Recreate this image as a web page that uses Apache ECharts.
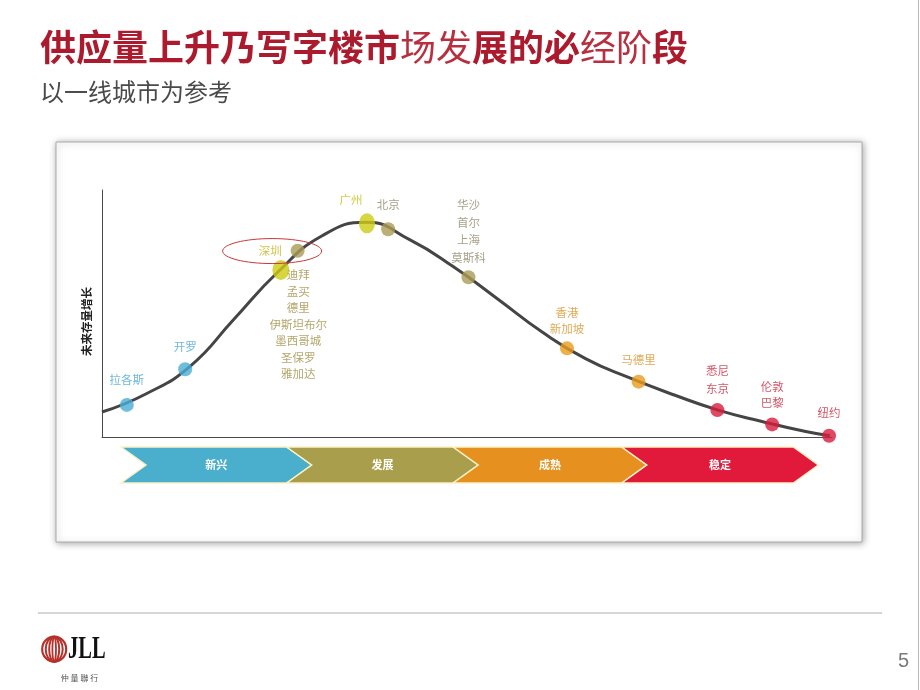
<!DOCTYPE html>
<html><head><meta charset="utf-8">
<script src="https://cdn.jsdelivr.net/npm/echarts@6/dist/echarts.min.js"></script>
<style>html,body{margin:0;padding:0;background:#fff}#c{width:920px;height:690px}</style>
</head><body><div id="c"></div>
<script>
// ---- data ----
const curveX = [0, 6.0, 12.1, 18.1, 24.1, 30.1, 36.2, 42.2, 48.2, 54.2, 60.3, 66.3, 72.3, 78.4, 84.4, 90.4, 96.4, 99.7];
const curveY = [10.1, 17.4, 28.7, 47.8, 66.8, 81.4, 86.9, 79.8, 68.8, 55.9, 42.5, 31.6, 23.9, 17.0, 10.9, 6.3, 2.2, 0.5];

const cityNames = ['拉各斯', '开罗', '迪拜', '深圳', '广州', '北京', '华沙', '香港', '马德里', '悉尼', '伦敦', '纽约'];
const cityLabels = ['拉各斯', '开罗', '迪拜\n孟买\n德里\n伊斯坦布尔\n墨西哥城\n圣保罗\n雅加达', '深圳', '广州', '北京', '华沙\n首尔\n上海\n莫斯科', '香港\n新加坡', '马德里', '悉尼\n东京', '伦敦\n巴黎', '纽约'];
const cityX = [3.4, 11.4, 24.5, 26.8, 36.3, 39.2, 50.2, 63.7, 73.5, 84.3, 91.8, 99.6];
const cityY = [13.0, 27.4, 67.6, 75.4, 86.5, 84.1, 64.7, 35.9, 22.4, 10.9, 5.1, 0.5];
const cityGroup = ['blue', 'blue', 'yellow', 'olive', 'yellow', 'olive', 'olive', 'orange', 'orange', 'red', 'red', 'red'];

const stageNames = ['新兴', '发展', '成熟', '稳定'];
const stageStart = [2.6, 25.3, 48.1, 71.2];
const stageEnd = [25.3, 48.1, 71.2, 94.7];

const yAxisName = '未来存量增长';
const titleText = '供应量上升乃写字楼市场发展的必经阶段';
const subtitleText = '以一线城市为参考';

// ---- styles ----
const FONT = '"Noto Sans CJK SC", "Noto Sans", sans-serif';
const dotColors = { blue: '#4badd3', yellow: '#cdca12', olive: '#a99b55', orange: '#e79b1b', red: '#d81b3d' };
const stageColors = ['#4aaecd', '#a99e4c', '#e6911f', '#e1193a'];
const labelCfg = [
  { position: 'top', distance: 10, color: '#4aa6cf' },
  { position: 'top', distance: 7, color: '#4aa6cf' },
  { position: 'bottom', distance: 0, offset: [17.5, -13.5], lineHeight: 16.5, color: '#a08e45' },
  { position: 'left', distance: 9, color: '#c2b41c' },
  { position: 'top', distance: 5, offset: [-16, 0], color: '#c4be16' },
  { position: 'top', distance: 9, color: '#8f8a6a' },
  { position: 'top', distance: 4, lineHeight: 17.5, color: '#8f8a6a' },
  { position: 'top', distance: 5, lineHeight: 16, color: '#d8932a' },
  { position: 'top', distance: 7, color: '#d8932a' },
  { position: 'top', distance: 5, lineHeight: 18.5, color: '#c52a40' },
  { position: 'top', distance: 6, lineHeight: 16.7, color: '#c52a40' },
  { position: 'top', distance: 8, color: '#c52a40' }
];
const dotSize = { 2: [17, 20], 4: [16, 20] };

const chart = echarts.init(document.getElementById('c'), null, { renderer: 'canvas' });

const curveData = curveX.map((x, i) => [x, curveY[i]]);
const cityData = cityNames.map((n, i) => {
  const c = labelCfg[i];
  return {
    name: n,
    value: [cityX[i], cityY[i]],
    symbolSize: dotSize[i] || 14,
    itemStyle: { color: dotColors[cityGroup[i]] },
    label: {
      show: true,
      formatter: cityLabels[i],
      position: c.position,
      distance: c.distance,
      offset: c.offset || [0, 0],
      lineHeight: c.lineHeight || 17,
      color: c.color,
      fontSize: 11.5,
      fontFamily: FONT,
      align: 'center'
    }
  };
});
cityData[3].label.align = 'right';

const stageData = stageNames.map((n, i) => [stageStart[i], stageEnd[i], i]);

chart.setOption({
  backgroundColor: '#ffffff',
  animation: false,
  textStyle: { fontFamily: FONT },
  graphic: [
    { id: 'frame', type: 'rect', z: -10, shape: { x: 56, y: 142, width: 806, height: 400 },
      style: { fill: '#fff', stroke: '#aaaaaa', lineWidth: 1, shadowBlur: 7, shadowColor: 'rgba(0,0,0,0.35)', shadowOffsetX: 1, shadowOffsetY: 1 } },
    { id: 'title', type: 'text', x: 40, y: 47, style: {
        text: '{b|供应量上升乃写字楼市}{n|场发}{b|展的必}{n|经阶}{b|段}',
        verticalAlign: 'middle', align: 'left',
        rich: {
          b: { fontSize: 36, fontWeight: 'bold', fill: '#ab1a2d', fontFamily: FONT },
          n: { fontSize: 36, fontWeight: 'normal', fill: '#b8303f', fontFamily: FONT }
        } } },
    { id: 'subtitle', type: 'text', x: 40, y: 92, style: { text: subtitleText, font: '24px ' + FONT, fill: '#4a4a4a', verticalAlign: 'middle', align: 'left' } },
    { id: 'footline', type: 'line', shape: { x1: 38, y1: 613, x2: 882, y2: 613 }, style: { stroke: '#c8c8c8', lineWidth: 1.5 } },
    { id: 'rightline', type: 'line', shape: { x1: 918.5, y1: 0, x2: 918.5, y2: 690 }, style: { stroke: '#b8b8b8', lineWidth: 1 } },
    { id: 'lg1', type: 'ellipse', shape: { cx: 54.2, cy: 649.2, rx: 12, ry: 12.5 }, style: { fill: 'none', stroke: '#b5322c', lineWidth: 2.2 } },
    { id: 'lg2', type: 'ellipse', shape: { cx: 54.2, cy: 649.2, rx: 8.5, ry: 12.5 }, style: { fill: 'none', stroke: '#b5322c', lineWidth: 2 } },
    { id: 'lg3', type: 'ellipse', shape: { cx: 54.2, cy: 649.2, rx: 5, ry: 12.5 }, style: { fill: 'none', stroke: '#b5322c', lineWidth: 2 } },
    { id: 'lg4', type: 'ellipse', shape: { cx: 54.2, cy: 649.2, rx: 1.8, ry: 12.5 }, style: { fill: 'none', stroke: '#b5322c', lineWidth: 1.8 } },
    { id: 'jll', type: 'text', x: 68, y: 650, scaleX: 0.66, style: { x: 0, y: 0, text: 'JLL', font: 'bold 31px "Liberation Serif", serif', fill: '#111', verticalAlign: 'middle', align: 'left' } },
    { id: 'jllcn', type: 'text', x: 79.5, y: 677.5, style: { text: '仲 量 聯 行', font: '8px ' + FONT, fill: '#555', verticalAlign: 'middle', align: 'center' } },
    { id: 'pageno', type: 'text', x: 903.5, y: 661, style: { text: '5', font: '20px "Liberation Sans", sans-serif', fill: '#7a7a7a', verticalAlign: 'middle', align: 'center' } }
  ],
  grid: [
    { left: 102, right: 88, top: 190, bottom: 253 },
    { left: 102, right: 88, top: 447, height: 36 }
  ],
  xAxis: [
    { type: 'value', gridIndex: 0, min: 0, max: 100, axisLine: { show: true, lineStyle: { color: '#4a4a4a', width: 1 } },
      axisTick: { show: false }, axisLabel: { show: false }, splitLine: { show: false } },
    { type: 'value', gridIndex: 1, min: 0, max: 100, show: false }
  ],
  yAxis: [
    { type: 'value', gridIndex: 0, min: 0, max: 100, axisLine: { show: true, onZero: false, lineStyle: { color: '#4a4a4a', width: 1 } },
      axisTick: { show: false }, axisLabel: { show: false }, splitLine: { show: false },
      name: yAxisName, nameLocation: 'middle', nameGap: 10,
      nameTextStyle: { fontSize: 11.5, fontWeight: 'bold', color: '#222', fontFamily: FONT, padding: [0, 16, 0, 0] } },
    { type: 'value', gridIndex: 1, min: 0, max: 1, show: false }
  ],
  series: [
    { type: 'line', xAxisIndex: 0, yAxisIndex: 0, data: curveData, smooth: 0.5,
      showSymbol: false, lineStyle: { color: '#454545', width: 3 }, z: 2 },
    { type: 'scatter', xAxisIndex: 0, yAxisIndex: 0, data: cityData, z: 3 },
    { type: 'custom', xAxisIndex: 1, yAxisIndex: 1, data: stageData,
      renderItem: function (params, api) {
        const s = api.value(0), e = api.value(1), idx = api.value(2);
        const tl = api.coord([s, 1]), tr = api.coord([e, 1]), br = api.coord([e, 0]), bl = api.coord([s, 0]);
        const midY = (tl[1] + bl[1]) / 2;
        const d = 25;
        return {
          type: 'group',
          children: [
            { type: 'polygon', shape: { points: [tl, tr, [tr[0] + d, midY], br, bl, [bl[0] + d, midY]] },
              style: { fill: stageColors[idx], stroke: '#fbf1c6', lineWidth: 1.5 } },
            { type: 'text', style: { text: stageNames[idx], x: (tl[0] + tr[0]) / 2 + d / 2, y: midY,
              align: 'center', verticalAlign: 'middle', fill: '#ffffff', font: 'bold 11px ' + FONT } }
          ]
        };
      } }
  ]
});

const sz = chart.convertToPixel({ seriesIndex: 1 }, [cityX[3], cityY[3]]);
chart.setOption({
  graphic: [
    { id: 'szEllipse', type: 'ellipse', z: 10, shape: { cx: sz[0] - 25.5, cy: sz[1] + 0.3, rx: 49.5, ry: 12.5 },
      style: { fill: 'none', stroke: '#c9373a', lineWidth: 1 } }
  ]
});
</script>
</body></html>
